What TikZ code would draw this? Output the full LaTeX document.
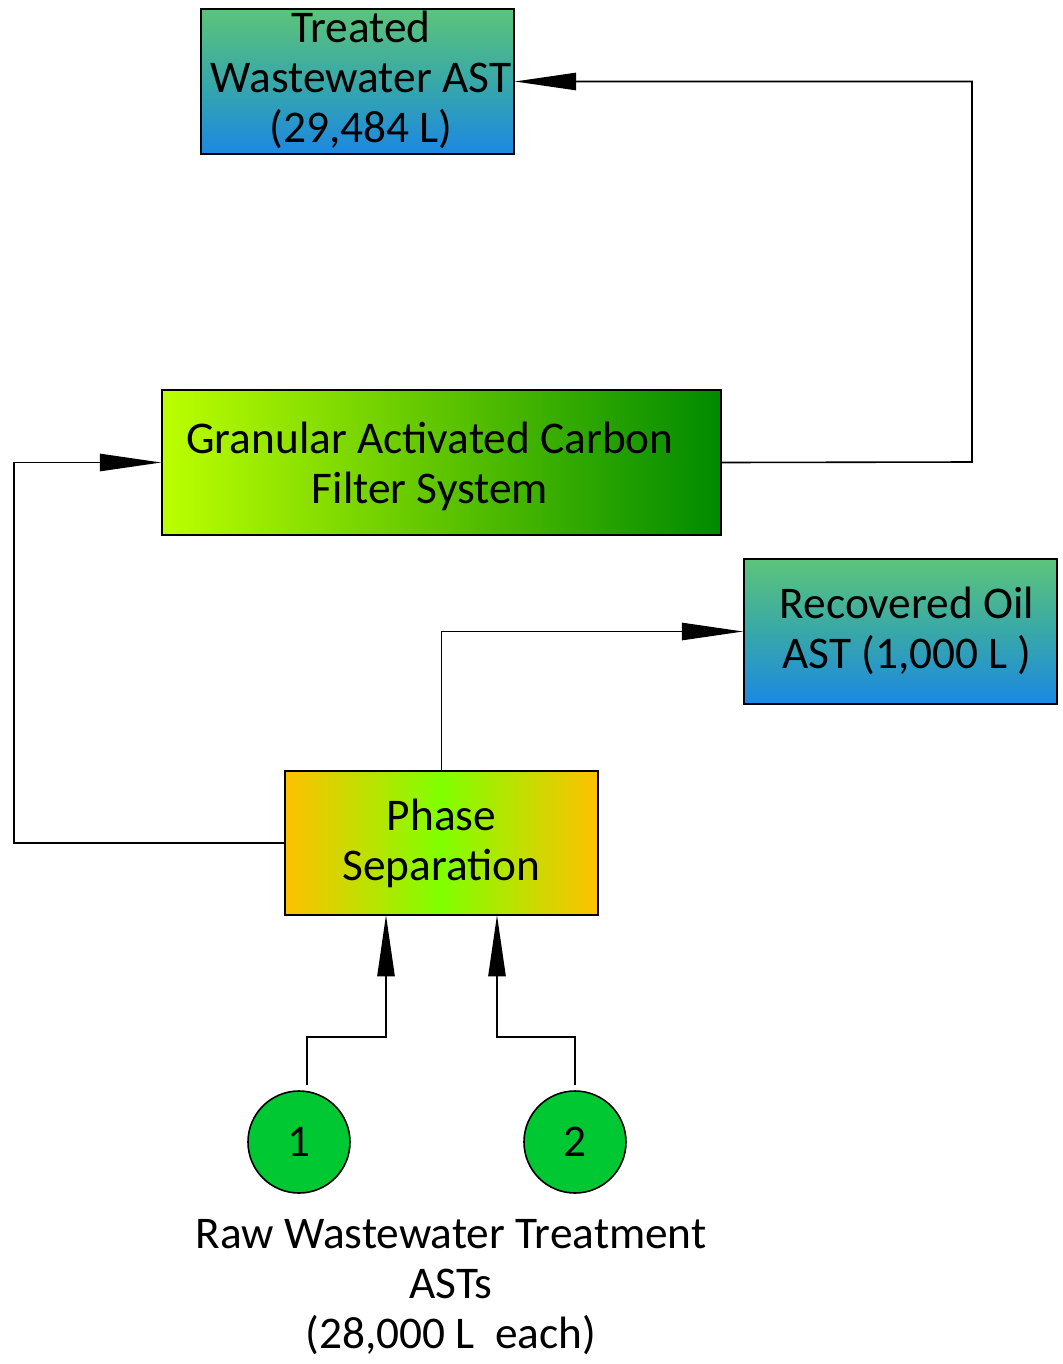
\documentclass[tikz,border=0pt]{standalone}
\usepackage{fontspec}
\setmainfont{Carlito}
\usetikzlibrary{arrows.meta}
\definecolor{tgreen}{RGB}{92,196,122}
\definecolor{tteal}{RGB}{56,168,168}
\definecolor{tblue}{RGB}{28,136,226}
\definecolor{gacL}{RGB}{188,255,0}
\definecolor{gacR}{RGB}{0,138,0}
\definecolor{phO}{RGB}{255,192,0}
\definecolor{phG}{RGB}{128,255,0}
\definecolor{circG}{RGB}{0,200,50}
\begin{document}
\begin{tikzpicture}[x=0.75pt,y=-0.75pt,
  every node/.style={font=\fontsize{34}{37.5}\selectfont, align=center, inner sep=0pt},
  box/.style={draw=black, line width=1.2pt, minimum width=234.75pt, minimum height=108.75pt},
  tank/.style={box, top color=tgreen, bottom color=tblue, middle color=tteal},
  circ/.style={circle, draw=black, line width=1.2pt, fill=circG, minimum size=76.5pt},
  conn/.style={line width=1.2pt},
  arr/.style={conn, -{Triangle[length=46pt,width=13pt]}}]
\useasboundingbox (0,0) rectangle (1063,1364);
\node[tank] (treated) at (357.5,81.5) {};
\node (treatedT) at (361,80) {Treated\\Wastewater AST\\(29,484 L)};
\node[box, minimum width=419.25pt, left color=gacL, right color=gacR] (gac) at (441.5,462.5) {};
\node (gacT) at (430,466) {Granular Activated Carbon\\Filter System};
\node[tank] (oil) at (900.5,631.5) {};
\node (oilT) at (907,631) {Recovered Oil\\AST (1,000 L )};
\node[box, minimum height=108pt, left color=phO, right color=phO, middle color=phG] (phase) at (441.5,843) {Phase\\Separation};
\node[circ] (c1) at (299,1142) {1};
\node[circ] (c2) at (575,1142) {2};
\node (lbl) at (451,1287) {Raw Wastewater Treatment\\ASTs\\(28,000 L\ \ each)};
\coordinate (cL) at (14,843);
\coordinate (cR) at (972,462);
\coordinate (s1) at (307,1085);
\coordinate (s2) at (575,1085);
\coordinate (in1) at (386,915);
\coordinate (in2) at (497,915);
\draw[arr] (phase.west) -- (cL) |- (gac.west);
\draw[arr] (gac.east) -- (cR) |- (treated.east);
\draw[arr] (phase.north) |- (oil.west);
\draw[arr] (s1) -- ++(0,-48) -| (in1);
\draw[arr] (s2) -- ++(0,-48) -| (in2);
\end{tikzpicture}
\end{document}
